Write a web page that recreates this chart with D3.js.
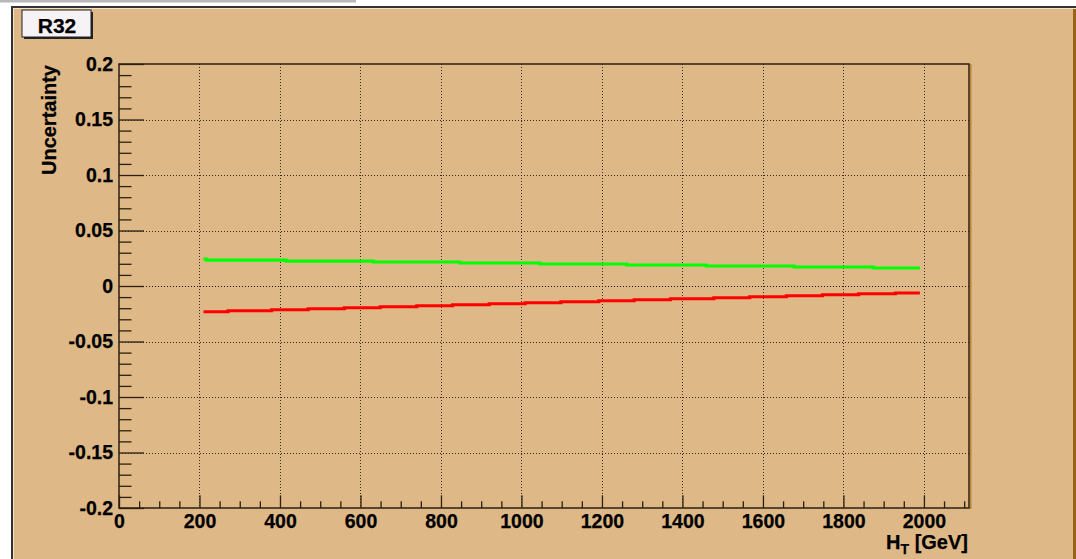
<!DOCTYPE html>
<html>
<head>
<meta charset="utf-8">
<script src="https://cdn.jsdelivr.net/npm/d3@7"></script>
<style>
  body { margin: 0; background: #fff; }
  svg { display: block; font-family: "Liberation Sans", Arial, Helvetica, sans-serif; font-weight: bold; }
</style>
</head>
<body>
<div id="chart"></div>
<script>
// bin edges (GeV) and bin contents
const greenEdges = [210, 218, 416, 632, 847, 1046, 1262, 1459, 1677, 1874, 1990];
const greenValues = [0.0243, 0.0234, 0.0225, 0.0216, 0.0207, 0.0198, 0.0189, 0.0180, 0.0171, 0.0162];

const redEdges = [210, 271, 379, 470, 560, 649, 740, 829, 920, 1009, 1098, 1192, 1280, 1370, 1478, 1567, 1658, 1748, 1838, 1929, 1990];
const redValues = [-0.0232, -0.0223, -0.0214, -0.0205, -0.0196, -0.0187, -0.0178, -0.0169, -0.0160, -0.0151,
                   -0.0142, -0.0133, -0.0124, -0.0115, -0.0106, -0.0097, -0.0088, -0.0079, -0.0070, -0.0063];

const xMajorTicks = [0, 200, 400, 600, 800, 1000, 1200, 1400, 1600, 1800, 2000];
const yMajorTicks = [-0.2, -0.15, -0.1, -0.05, 0, 0.05, 0.1, 0.15, 0.2];

const width = 1076, height = 559;
const tan = "#deb886";

const svg = d3.select("#chart").append("svg")
    .attr("width", width)
    .attr("height", height);

// canvas frame
svg.append("rect").attr("x", 0).attr("y", 0).attr("width", 356).attr("height", 2.5).attr("fill", "#b8b8b8");
svg.append("rect").attr("x", 11).attr("y", 6).attr("width", 1065).attr("height", 553).attr("fill", "#333");
svg.append("rect").attr("x", 13).attr("y", 8).attr("width", 1063).attr("height", 551).attr("fill", "#f3e2c4");
svg.append("rect").attr("x", 14).attr("y", 9).attr("width", 1062).attr("height", 550).attr("fill", "#9a6416");
svg.append("rect").attr("x", 14).attr("y", 9).attr("width", 1059).attr("height", 550).attr("fill", tan);

const x = d3.scaleLinear().domain([0, 2112]).range([119, 969]);
const y = d3.scaleLinear().domain([-0.2, 0.2]).range([508, 64]);

// grid
const grid = svg.append("g")
    .attr("stroke", "#1a140c")
    .attr("stroke-width", 1)
    .attr("stroke-dasharray", "1,2")
    .attr("shape-rendering", "crispEdges");

grid.selectAll(".gx")
    .data(xMajorTicks.filter(d => d > 0))
    .enter().append("line")
    .attr("x1", d => Math.round(x(d)) + 0.5)
    .attr("x2", d => Math.round(x(d)) + 0.5)
    .attr("y1", y(0.2))
    .attr("y2", y(-0.2))
    .attr("stroke-opacity", 0.85);

grid.selectAll(".gy")
    .data(yMajorTicks.filter(d => d > -0.2 && d < 0.2))
    .enter().append("line")
    .attr("x1", x(0))
    .attr("x2", x(2112))
    .attr("y1", d => Math.round(y(d)) + 0.5)
    .attr("y2", d => Math.round(y(d)) + 0.5)
    .attr("stroke-opacity", d => d === 0 ? 1 : 0.85);

// histograms as steps
const line = d3.line()
    .x(d => x(d[0]))
    .y(d => y(d[1]))
    .curve(d3.curveStepAfter);

function stepPoints(edges, values) {
    const pts = values.map((v, i) => [edges[i], v]);
    pts.push([edges[edges.length - 1], values[values.length - 1]]);
    return pts;
}

svg.append("path")
    .datum(stepPoints(greenEdges, greenValues))
    .attr("fill", "none")
    .attr("stroke", "#00ff00")
    .attr("stroke-width", 3.2)
    .attr("d", line);

svg.append("path")
    .datum(stepPoints(redEdges, redValues))
    .attr("fill", "none")
    .attr("stroke", "#ff0000")
    .attr("stroke-width", 3.2)
    .attr("d", line);

// y axis ticks (pointing inward)
const yMinor = d3.range(-20, 21).map(d => d / 100).filter(d => !yMajorTicks.some(m => Math.abs(m - d) < 1e-9));

svg.append("g").attr("transform", `translate(${x(0)},0)`)
    .call(d3.axisRight(y).tickValues(yMajorTicks).tickSize(25).tickFormat(""))
    .call(g => g.select(".domain").remove());
svg.append("g").attr("transform", `translate(${x(0)},0)`)
    .call(d3.axisRight(y).tickValues(yMinor).tickSize(12.5).tickFormat(""))
    .call(g => g.select(".domain").remove());

svg.append("g")
    .attr("transform", `translate(${x(0)},0)`)
    .style("font-size", "19.5px")
    .style("font-family", "'Liberation Sans', Arial, sans-serif")
    .style("font-weight", "bold")
    .call(d3.axisLeft(y).tickValues(yMajorTicks).tickSize(0).tickPadding(6)
        .tickFormat(d => d === 0 ? "0" : String(+d.toFixed(2))))
    .call(g => g.select(".domain").remove())
    .call(g => g.selectAll("text").attr("fill", "#000").attr("stroke", "#000").attr("stroke-width", 0.25));

// x axis ticks (pointing inward)
const xMinor = d3.range(0, 2112, 50).filter(d => d % 200 !== 0);

svg.append("g").attr("transform", `translate(0,${y(-0.2)})`)
    .call(d3.axisTop(x).tickValues(xMajorTicks).tickSize(12.7).tickFormat(""))
    .call(g => g.select(".domain").remove());
svg.append("g").attr("transform", `translate(0,${y(-0.2)})`)
    .call(d3.axisTop(x).tickValues(xMinor).tickSize(6.7).tickFormat(""))
    .call(g => g.select(".domain").remove());

svg.append("g")
    .attr("transform", `translate(0,${y(-0.2)})`)
    .style("font-size", "19.5px")
    .style("font-family", "'Liberation Sans', Arial, sans-serif")
    .style("font-weight", "bold")
    .call(d3.axisBottom(x).tickValues(xMajorTicks).tickSize(0).tickPadding(6).tickFormat(d => String(d)))
    .call(g => g.select(".domain").remove())
    .call(g => g.selectAll("text").attr("fill", "#000").attr("stroke", "#000").attr("stroke-width", 0.25));

svg.selectAll(".tick line").attr("stroke", "#2b2010").attr("stroke-width", 1.3);

// plot frame
svg.append("rect")
    .attr("x", x(0)).attr("y", y(0.2))
    .attr("width", x(2112) - x(0)).attr("height", y(-0.2) - y(0.2))
    .attr("fill", "none")
    .attr("stroke", "#2b2010")
    .attr("stroke-width", 1.5);
svg.append("line")
    .attr("x1", x(2112) + 1.8).attr("x2", x(2112) + 1.8)
    .attr("y1", y(0.2)).attr("y2", y(-0.2) + 1)
    .attr("stroke", "#b07a2a").attr("stroke-width", 1.2);

// axis titles
svg.append("text")
    .attr("transform", `translate(56,${y(0.2) + 1}) rotate(-90)`)
    .attr("text-anchor", "end")
    .attr("stroke", "#000").attr("stroke-width", 0.25)
    .style("font-size", "20px")
    .text("Uncertainty");

const xt = svg.append("text")
    .attr("x", 968)
    .attr("y", 549)
    .attr("text-anchor", "end")
    .attr("stroke", "#000").attr("stroke-width", 0.25)
    .style("font-size", "20px");
xt.append("tspan").text("H");
xt.append("tspan").attr("dy", 5).style("font-size", "14px").text("T");
xt.append("tspan").attr("dy", -5).text(" [GeV]");

// title box
svg.append("rect").attr("x", 24).attr("y", 12).attr("width", 69).attr("height", 27).attr("fill", "#222");
svg.append("rect").attr("x", 22).attr("y", 10).attr("width", 69).attr("height", 27)
    .attr("fill", "#f6f2f6").attr("stroke", "#222").attr("stroke-width", 1);
svg.append("text")
    .attr("x", 57).attr("y", 32.5)
    .attr("text-anchor", "middle")
    .attr("stroke", "#000").attr("stroke-width", 0.25)
    .style("font-size", "21px")
    .text("R32");
</script>
</body>
</html>
